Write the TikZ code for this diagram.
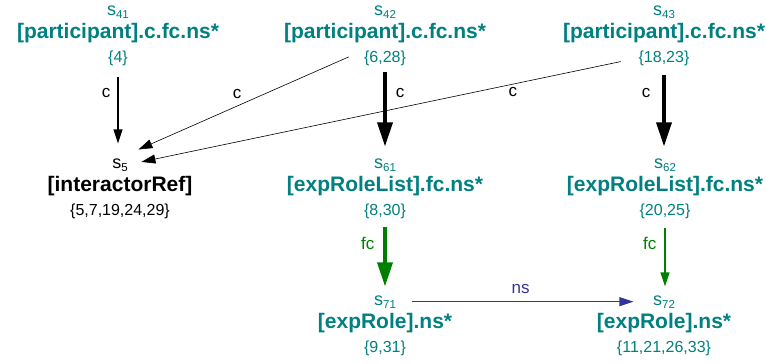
\documentclass[tikz,border=0pt]{standalone}
\usepackage{fontspec}
\setmainfont{Liberation Sans}
\usepackage{tikz}
\usetikzlibrary{arrows.meta}
\usepackage{xcolor}
\definecolor{stcol}{RGB}{0,128,128}
\definecolor{fccol}{RGB}{0,128,0}
\definecolor{nscol}{RGB}{51,51,153}
\tikzset{>={Triangle[length=14pt,width=9pt]}}
\tikzstyle{sname}=[anchor=base,inner sep=0pt,font=\fontsize{18}{21}\selectfont]
\tikzstyle{stitle}=[anchor=base,inner sep=0pt,font=\fontsize{21}{25}\selectfont\bfseries]
\tikzstyle{sset}=[anchor=base,inner sep=0pt,font=\fontsize{16}{19}\selectfont]
\tikzstyle{elab}=[font=\fontsize{17}{20}\selectfont,inner sep=3pt]
\tikzstyle{tedge}=[->,line width=1.2pt]
\tikzstyle{fedge}=[-{Triangle[length=24pt,width=15pt]},line width=3.5pt]
\tikzstyle{sedge}=[->,line width=0.6pt]
\newcommand{\lowidx}[1]{\raisebox{-3pt}{\fontsize{11.5}{13}\selectfont#1}}
% one state: name, title and set
\newcommand{\mkstate}[5][stcol]{%
  \node[sname,#1] (s#2) at (#3) {s\lowidx{#2}};
  \node[stitle,#1] (t#2) at ([yshift=-23pt]s#2.base) {#4};
  \node[sset,#1] (n#2) at ([yshift=-47pt]s#2.base) {\{#5\}};
}

\begin{document}
\begin{tikzpicture}[x=1pt,y=-1pt]
  \useasboundingbox (0,0) rectangle (766,364);

  % states
  \mkstate{41}{118,15}{[participant].c.fc.ns*}{4}
  \mkstate{42}{385,15}{[participant].c.fc.ns*}{6,28}
  \mkstate{43}{664,15}{[participant].c.fc.ns*}{18,23}
  \mkstate[black]{5}{120,168}{[interactorRef]}{5,7,19,24,29}
  \mkstate{61}{385,168}{[expRoleList].fc.ns*}{8,30}
  \mkstate{62}{665,168}{[expRoleList].fc.ns*}{20,25}
  \mkstate{71}{385,305}{[expRole].ns*}{9,31}
  \mkstate{72}{664,305}{[expRole].ns*}{11,21,26,33}

  % c
  \draw[tedge,shorten <=11.5pt,shorten >=14.7pt] (n41.south) --
        node[elab,left=4pt,pos=0.3] {c} (s5.north -| n41.south);
  \draw[sedge,shorten <=16.5pt,shorten >=11.5pt] (n42.north west) --
        node[elab,above=4pt,pos=0.537] {c} ([yshift=4pt]s5.north east);
  \draw[sedge,shorten <=18pt,shorten >=13.8pt] (n43.west) --
        node[elab,below,pos=0.246] {c} (s5.east);
  \draw[fedge,shorten <=6.6pt,shorten >=11.7pt] (n42.south) --
        node[elab,right=6pt,pos=0.3] {c} (s61.north);
  \draw[fedge,shorten <=9.6pt,shorten >=11.7pt] (n43.south) --
        node[elab,left=9pt,pos=0.3] {c} (s62.north -| n43.south);

  % fc
  \draw[fedge,fccol,shorten <=8.6pt,shorten >=8.7pt] (n61.south) --
        node[elab,left=6pt,pos=0.32] {fc} (s71.north);
  \draw[tedge,fccol,shorten <=9.6pt,shorten >=8.7pt] (n62.south) --
        node[elab,left=5pt,pos=0.32] {fc} (s72.north -| n62.south);

  % ns
  \draw[tedge,nscol,shorten <=15.5pt,shorten >=19.5pt] (s71.east) --
        node[elab,above=4pt,pos=0.485] {ns} (s72.west);

\end{tikzpicture}
\end{document}
